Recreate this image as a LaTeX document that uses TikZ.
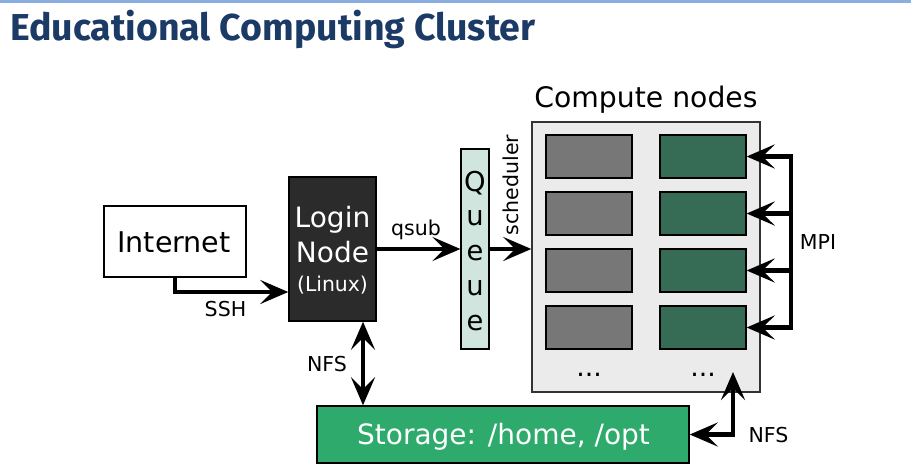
\documentclass[tikz,border=0pt]{standalone}
\usepackage{fontspec}
\setmainfont{DejaVu Sans}
\newfontfamily\titlefont{Fira Sans}
\usetikzlibrary{arrows.meta}
\definecolor{titleblue}{HTML}{1B3A66}
\definecolor{topline}{HTML}{8AAEE0}
\definecolor{loginfill}{HTML}{2B2B2B}
\definecolor{queuefill}{HTML}{D0E5DD}
\definecolor{cbox}{HTML}{EBEBEB}
\definecolor{graynode}{HTML}{777777}
\definecolor{greennode}{HTML}{366B56}
\definecolor{storagefill}{HTML}{2EAA6C}
\tikzset{
  box/.style={draw=black, line width=1.1pt, inner sep=0pt},
  lbl/.style={inner sep=0pt, anchor=base, font=\fontsize{15.4}{18}\selectfont},
  conn/.style={line width=3.6pt, black},
  arr/.style={conn, -{Stealth[length=21pt,width=18pt,inset=9pt]}},
  arrboth/.style={conn, {Stealth[length=21pt,width=18pt,inset=9pt]}-{Stealth[length=21pt,width=18pt,inset=9pt]}},
  cn/.style={draw=black, line width=1pt, minimum width=64.5pt, minimum height=32.25pt, inner sep=0pt},
}
\begin{document}
\begin{tikzpicture}[x=0.75pt,y=-0.75pt]
\useasboundingbox (0,0) rectangle (911,472);
\fill[white] (0,0) rectangle (911,472);
\fill[topline] (0,0) rectangle (911,2.5);
\node[anchor=base west, inner sep=0pt, text=titleblue, font=\titlefont\bfseries\fontsize{28.1}{32}\selectfont] (title) at (10,40) {Educational Computing Cluster};

% Internet
\node[box, fill=white, minimum width=106.5pt, minimum height=53.25pt] (inet) at (175,241.5) {};
\node[inner sep=0pt, anchor=base, font=\fontsize{21.4}{24}\selectfont] (inetT) at (174,252) {Internet};

% Login
\node[box, fill=loginfill, minimum width=65.25pt, minimum height=108pt] (login) at (332.5,249) {};
\node[inner sep=0pt, anchor=base, text=white, font=\fontsize{21}{24}\selectfont] (loginT1) at (332.5,227) {Login};
\node[inner sep=0pt, anchor=base, text=white, font=\fontsize{21}{24}\selectfont] (loginT2) at (332.5,262) {Node};
\node[inner sep=0pt, anchor=base, text=white, font=\fontsize{15.3}{18}\selectfont] (loginT3) at (332.5,291) {(Linux)};

% Queue
\node[box, line width=0.9pt, fill=queuefill, minimum width=21pt, minimum height=150pt] (queue) at (475,249) {};
\foreach \l [count=\k from 0] in {Q,u,e,u,e}
  \node[inner sep=0pt, anchor=base, font=\fontsize{20.5}{24}\selectfont] (q\k) at (475,191+34.75*\k) {\l};

% Compute box
\node[draw=black!80, line width=1.1pt, fill=cbox, minimum width=171pt, minimum height=202.5pt, inner sep=0pt] (compute) at (646,257) {};
\node[inner sep=0pt, anchor=base, font=\fontsize{21.2}{24}\selectfont] (ctitle) at (646,107) {Compute nodes};
\foreach \y [count=\i] in {156.5,213.5,270.5,327.5} {
  \node[cn, fill=graynode] (gr\i) at (589,\y) {};
  \node[cn, fill=greennode] (g\i) at (703,\y) {};
}
\node[inner sep=0pt, anchor=base, font=\fontsize{20}{24}\selectfont] (dots1) at (589,376) {...};
\node[inner sep=0pt, anchor=base, font=\fontsize{20}{24}\selectfont] (dots2) at (703,376) {...};

% Storage
\node[box, fill=storagefill, minimum width=279pt, minimum height=42.75pt] (storage) at (503,434.5) {};
\node[inner sep=0pt, anchor=base, text=white, font=\fontsize{21}{24}\selectfont] (storT) at (503.5,444) {Storage: /home, /opt};

% SSH
\coordinate (sshy) at (175,292);
\draw[arr] (inet.south -| sshy) |- (login.west |- sshy);
\node[lbl] (sshL) at (225.5,316) {SSH};

% qsub
\draw[arr] (login.east) -- (queue.west);
\node[lbl] (qsubL) at (416,235) {qsub};

% scheduler
\draw[arr] (queue.east) -- (compute.west |- queue.east);
\node[inner sep=0pt, rotate=90, font=\fontsize{15.4}{18}\selectfont] (schedL) at (511,185) {scheduler};

% NFS login-storage
\coordinate (nfsx) at (363,0);
\draw[arrboth] (login.south -| nfsx) -- (storage.north -| nfsx);
\node[lbl] (nfs1L) at (327,371) {NFS};

% MPI
\coordinate (mpix) at (791,0);
\draw[arrboth, line join=miter] (g1.east) -- (mpix |- g1.east) -- (mpix |- g4.east) -- (g4.east);
\draw[arr] (mpix |- g2.east) -- (g2.east);
\draw[arr] (mpix |- g3.east) -- (g3.east);
\node[lbl] (mpiL) at (818,249) {MPI};

% NFS storage-compute
\coordinate (nfs2) at (733,372);
\draw[arrboth, line join=miter] (storage.east) -| (nfs2);
\node[lbl] (nfs2L) at (768.5,442) {NFS};
\end{tikzpicture}
\end{document}
